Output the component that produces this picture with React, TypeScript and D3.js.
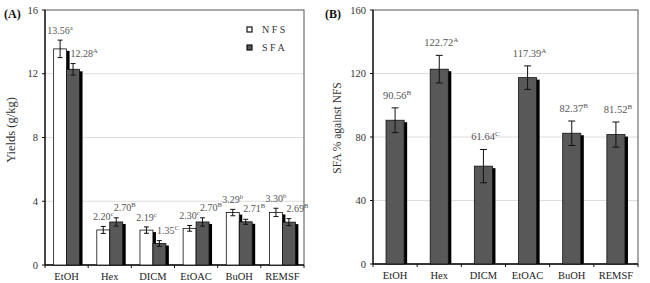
import { scaleBand, scaleLinear } from 'd3';

const categories = ['EtOH', 'Hex', 'DICM', 'EtOAC', 'BuOH', 'REMSF'];

// (A) yields, g/kg
const nfsYield = [13.56, 2.2, 2.19, 2.3, 3.29, 3.3];
const nfsErr = [0.55, 0.22, 0.2, 0.18, 0.2, 0.26];
const nfsLetters = ['a', 'c', 'c', 'c', 'b', 'b'];
const sfaYield = [12.28, 2.7, 1.35, 2.7, 2.71, 2.69];
const sfaErr = [0.36, 0.26, 0.18, 0.26, 0.16, 0.22];
const sfaLetters = ['A', 'B', 'C', 'B', 'B', 'B'];
const yieldTicks = [0, 4, 8, 12, 16];

// (B) SFA as % of NFS
const sfaRatio = [90.56, 122.72, 61.64, 117.39, 82.37, 81.52];
const ratioErr = [7.8, 8.7, 10.5, 7.4, 7.7, 7.9];
const ratioLetters = ['B', 'A', 'C', 'A', 'B', 'B'];
const ratioTicks = [0, 40, 80, 120, 160];

const serif = "'Liberation Serif', 'DejaVu Serif', serif";
const barGray = '#585858';
const textGray = '#555';

function Label({ x, y, value, sup, anchor = 'middle', size = 10 }: { x: number; y: number; value: string; sup: string; anchor?: 'middle' | 'start'; size?: number }) {
  return (
    <text x={x} y={y} fontSize={size} fill={textGray} fontFamily={serif} textAnchor={anchor}>
      {value}
      <tspan fontSize={size * 0.67} dy={-4}>{sup}</tspan>
    </text>
  );
}

function Frame({ x, y, ticks, grid, left, right, top, bottom }: any) {
  return (
    <g>
      {grid.map((t: number) => (
        <line key={'g' + t} x1={left} x2={right} y1={y(t)} y2={y(t)} stroke="#dedede" strokeWidth={1} />
      ))}
      <rect x={left} y={top} width={right - left} height={bottom - top} fill="none" stroke="#555" strokeWidth={1} />
      <line x1={left} x2={left} y1={top} y2={bottom} stroke="#111" strokeWidth={1.3} />
      <line x1={left} x2={right} y1={bottom} y2={bottom} stroke="#111" strokeWidth={1.3} />
      {ticks.map((t: number) => (
        <g key={'t' + t}>
          <line x1={left - 3} x2={left} y1={y(t)} y2={y(t)} stroke="#111" />
          <text x={left - 7} y={y(t)} dy="0.35em" textAnchor="end" fontSize={10.5} fill="#333" fontFamily={serif}>
            {t}
          </text>
        </g>
      ))}
      {categories.map((c, i) => (
        <g key={c}>
          <line x1={left + i * x.step()} x2={left + i * x.step()} y1={bottom} y2={bottom + 3} stroke="#111" />
          <text x={(x(c) ?? 0) + x.bandwidth() / 2} y={bottom + 15} textAnchor="middle" fontSize={10.5} fill="#222" fontFamily={serif}>
            {c}
          </text>
        </g>
      ))}
      <line x1={right} x2={right} y1={bottom} y2={bottom + 3} stroke="#111" />
    </g>
  );
}

function ErrorBar({ cx, y0, y1, cap }: { cx: number; y0: number; y1: number; cap: number }) {
  return (
    <g stroke="#111" strokeWidth={1}>
      <line x1={cx} x2={cx} y1={y0} y2={y1} />
      <line x1={cx - cap / 2} x2={cx + cap / 2} y1={y0} y2={y0} />
      <line x1={cx - cap / 2} x2={cx + cap / 2} y1={y1} y2={y1} />
    </g>
  );
}

function Bar({ x, w, top, bottom, fill }: { x: number; w: number; top: number; bottom: number; fill: string }) {
  return (
    <g>
      <rect x={x + 3} y={top + 2} width={w} height={Math.max(0, bottom - top - 2)} fill="#000" />
      <rect x={x} y={top} width={w} height={bottom - top} fill={fill} stroke="#111" strokeWidth={0.8} />
    </g>
  );
}

function YieldPanel() {
  const left = 45, right = 304, top = 10, bottom = 265;
  const x = scaleBand<string>().domain(categories).range([left, right]).paddingInner(0.4).paddingOuter(0.2);
  const sub = scaleBand<string>().domain(['NFS', 'SFA']).range([0, x.bandwidth()]);
  const y = scaleLinear().domain([0, 16]).range([bottom, top]);
  const w = sub.bandwidth();

  return (
    <g>
      <Frame x={x} y={y} ticks={yieldTicks} grid={[4, 8, 12]} left={left} right={right} top={top} bottom={bottom} />
      {categories.map((c, i) => {
        const x0 = (x(c) ?? 0) + (sub('NFS') ?? 0);
        const x1 = (x(c) ?? 0) + (sub('SFA') ?? 0);
        return (
          <g key={c}>
            <Bar x={x0} w={w} top={y(nfsYield[i])} bottom={bottom} fill="#fff" />
            <Bar x={x1} w={w} top={y(sfaYield[i])} bottom={bottom} fill={barGray} />
            <ErrorBar cx={x0 + w / 2} y0={y(nfsYield[i] + nfsErr[i])} y1={y(nfsYield[i] - nfsErr[i])} cap={5} />
            <ErrorBar cx={x1 + w / 2} y0={y(sfaYield[i] + sfaErr[i])} y1={y(sfaYield[i] - sfaErr[i])} cap={5} />
            <Label x={x0 + w / 2} y={y(nfsYield[i] + nfsErr[i]) - 6} value={nfsYield[i].toFixed(2)} sup={nfsLetters[i]} />
            <Label x={x1 + 4} y={y(sfaYield[i] + sfaErr[i]) - 7} value={sfaYield[i].toFixed(2)} sup={sfaLetters[i]} anchor="start" />
          </g>
        );
      })}
      {/* legend */}
      <rect x={247} y={27} width={5} height={5} fill="#fff" stroke="#111" strokeWidth={1.2} />
      <text x={262} y={33} fontSize={10} fill="#333" fontFamily={serif}>N F S</text>
      <rect x={247} y={45} width={5} height={5} fill={barGray} stroke="#111" strokeWidth={1.2} />
      <text x={262} y={51} fontSize={10} fill="#333" fontFamily={serif}>S F A</text>
      <text transform="translate(15,130) rotate(-90)" textAnchor="middle" fontSize={12.5} fill="#333" fontFamily={serif}>
        Yields (g/kg)
      </text>
      <text x={4} y={18} fontSize={12} fontWeight="bold" fill="#111" fontFamily={serif}>(A)</text>
    </g>
  );
}

function RatioPanel() {
  const left = 373, right = 638, top = 10, bottom = 264;
  const x = scaleBand<string>().domain(categories).range([left, right]).paddingInner(0.59).paddingOuter(0.295);
  const y = scaleLinear().domain([0, 160]).range([bottom, top]);
  const w = x.bandwidth();

  return (
    <g>
      <Frame x={x} y={y} ticks={ratioTicks} grid={[40, 80, 120]} left={left} right={right} top={top} bottom={bottom} />
      {categories.map((c, i) => {
        const x0 = x(c) ?? 0;
        return (
          <g key={c}>
            <Bar x={x0} w={w} top={y(sfaRatio[i])} bottom={bottom} fill={barGray} />
            <ErrorBar cx={x0 + w / 2} y0={y(sfaRatio[i] + ratioErr[i])} y1={y(sfaRatio[i] - ratioErr[i])} cap={7} />
            <Label x={x0 + w / 2 + 2} y={y(sfaRatio[i] + ratioErr[i]) - 9} value={sfaRatio[i].toFixed(2)} sup={ratioLetters[i]} size={10.5} />
          </g>
        );
      })}
      <text transform="translate(341,128) rotate(-90)" textAnchor="middle" fontSize={11.5} fill="#333" fontFamily={serif}>
        SFA % against  NFS
      </text>
      <text x={325} y={18} fontSize={12} fontWeight="bold" fill="#111" fontFamily={serif}>(B)</text>
    </g>
  );
}

export default function App() {
  return (
    <svg
      width={650}
      height={283}
      style={{ position: 'absolute', left: 0, top: 0, background: '#fff' }}
      xmlSpace="preserve"
    >
      <YieldPanel />
      <RatioPanel />
    </svg>
  );
}
